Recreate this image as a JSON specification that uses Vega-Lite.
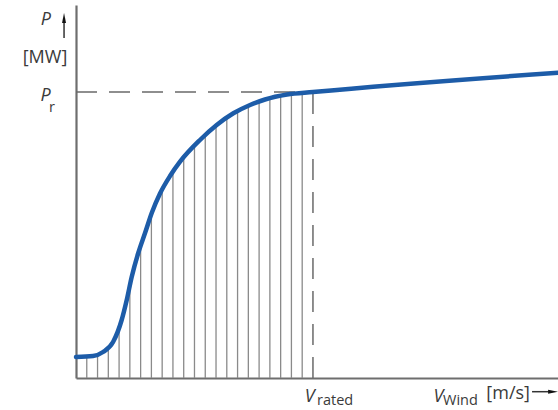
{
  "$schema": "https://vega.github.io/schema/vega-lite/v6.json",
  "width": 482,
  "height": 373,
  "autosize": {"type": "none"},
  "padding": {"left": 76, "top": 5, "right": 0, "bottom": 32},
  "background": "white",
  "config": {"view": {"stroke": null}},
  "datasets": {
    "curve": [
      {"v": 0, "p": 21}, {"v": 1.58, "p": 22}, {"v": 2.51, "p": 26}, {"v": 3.44, "p": 36},
      {"v": 4.24, "p": 58}, {"v": 4.71, "p": 78}, {"v": 5.17, "p": 101}, {"v": 5.78, "p": 125},
      {"v": 6.41, "p": 145}, {"v": 7.03, "p": 165}, {"v": 7.8, "p": 184.5}, {"v": 8.73, "p": 202},
      {"v": 9.66, "p": 216.3}, {"v": 11.51, "p": 238}, {"v": 13.06, "p": 253}, {"v": 14.61, "p": 264.7},
      {"v": 16.16, "p": 273}, {"v": 17.55, "p": 278.5}, {"v": 19.59, "p": 283.5}, {"v": 22, "p": 286},
      {"v": 44.75, "p": 305.3}
    ],
    "hatch": [
      {"v": 1, "b": 0, "p": 21.5}, {"v": 2, "b": 0, "p": 23.5}, {"v": 3, "b": 0, "p": 30}, {"v": 4, "b": 0, "p": 50},
      {"v": 5, "b": 0, "p": 93}, {"v": 6, "b": 0, "p": 132}, {"v": 7, "b": 0, "p": 164}, {"v": 8, "b": 0, "p": 188},
      {"v": 9, "b": 0, "p": 206}, {"v": 10, "b": 0, "p": 221}, {"v": 11, "b": 0, "p": 233}, {"v": 12, "b": 0, "p": 243},
      {"v": 13, "b": 0, "p": 252.5}, {"v": 14, "b": 0, "p": 260.5}, {"v": 15, "b": 0, "p": 267}, {"v": 16, "b": 0, "p": 272.3},
      {"v": 17, "b": 0, "p": 276.5}, {"v": 18, "b": 0, "p": 280}, {"v": 19, "b": 0, "p": 282.5}, {"v": 20, "b": 0, "p": 284.2},
      {"v": 21, "b": 0, "p": 285.2}
    ],
    "dash": [
      {"x1": 0, "x2": 22, "y1": 286, "y2": 286},
      {"x1": 22, "x2": 22, "y1": 0, "y2": 286}
    ],
    "arrowLines": [
      {"x1": -1.11, "x2": -1.11, "y1": 340, "y2": 358},
      {"x1": 42.34, "x2": 43.9, "y1": -13.7, "y2": -13.7}
    ],
    "headUp": [{"x": -1.11, "y": 360}],
    "headRight": [{"x": 44.3, "y": -13.7}],
    "italic": [
      {"x": -2.79, "y": 353, "t": "P"},
      {"x": -2.83, "y": 277, "t": "P"},
      {"x": 21.7, "y": -24, "t": "V"},
      {"x": 33.66, "y": -24, "t": "V"}
    ],
    "subs": [
      {"x": -2.5, "y": 266, "t": "r"},
      {"x": 22.38, "y": -27, "t": "rated"},
      {"x": 34.08, "y": -27, "t": "Wind"}
    ],
    "units": [
      {"x": -4.95, "y": 315, "t": "[MW]"},
      {"x": 38.1, "y": -21, "t": "[m/s]"}
    ]
  },
  "layer": [
    {
      "data": {"name": "hatch"},
      "mark": {"type": "rule", "color": "#8a8a8a", "strokeWidth": 1.3},
      "encoding": {
        "x": {"field": "v", "type": "quantitative", "scale": {"domain": [0, 44.75], "nice": false, "zero": false},
          "axis": {"labels": false, "ticks": false, "grid": false, "title": null, "domainColor": "#6e6e6e", "domainWidth": 2.2}},
        "y": {"field": "b", "type": "quantitative", "scale": {"domain": [0, 373], "nice": false, "zero": false},
          "axis": {"labels": false, "ticks": false, "grid": false, "title": null, "domainColor": "#6e6e6e", "domainWidth": 2.2}},
        "y2": {"field": "p"}
      }
    },
    {
      "data": {"name": "dash"},
      "mark": {"type": "rule", "color": "#6a6a6a", "strokeWidth": 1.5, "strokeDash": [21, 12]},
      "encoding": {
        "x": {"field": "x1", "type": "quantitative"},
        "x2": {"field": "x2"},
        "y": {"field": "y1", "type": "quantitative"},
        "y2": {"field": "y2"}
      }
    },
    {
      "data": {"name": "curve"},
      "mark": {"type": "line", "color": "#1d5ca8", "strokeWidth": 4.5, "interpolate": "monotone", "strokeCap": "round"},
      "encoding": {
        "x": {"field": "v", "type": "quantitative"},
        "y": {"field": "p", "type": "quantitative"}
      }
    },
    {
      "data": {"name": "arrowLines"},
      "mark": {"type": "rule", "color": "#333333", "strokeWidth": 1.5, "clip": false},
      "encoding": {
        "x": {"field": "x1", "type": "quantitative"},
        "x2": {"field": "x2"},
        "y": {"field": "y1", "type": "quantitative"},
        "y2": {"field": "y2"}
      }
    },
    {
      "data": {"name": "headUp"},
      "mark": {"type": "point", "filled": true, "color": "#111111", "opacity": 1, "size": 100, "clip": false, "shape": "M0,-1L0.4,1L-0.4,1Z"},
      "encoding": {
        "x": {"field": "x", "type": "quantitative"},
        "y": {"field": "y", "type": "quantitative"}
      }
    },
    {
      "data": {"name": "headRight"},
      "mark": {"type": "point", "filled": true, "color": "#111111", "opacity": 1, "size": 100, "clip": false, "shape": "M1,0L-1,0.4L-1,-0.4Z"},
      "encoding": {
        "x": {"field": "x", "type": "quantitative"},
        "y": {"field": "y", "type": "quantitative"}
      }
    },
    {
      "data": {"name": "italic"},
      "mark": {"type": "text", "font": "Open Sans", "fontStyle": "italic", "fontSize": 18, "color": "#3a3a3a", "baseline": "alphabetic", "align": "center", "clip": false},
      "encoding": {
        "x": {"field": "x", "type": "quantitative"},
        "y": {"field": "y", "type": "quantitative"},
        "text": {"field": "t"}
      }
    },
    {
      "data": {"name": "subs"},
      "mark": {"type": "text", "font": "Open Sans", "fontSize": 14.5, "color": "#3a3a3a", "baseline": "alphabetic", "align": "left", "clip": false},
      "encoding": {
        "x": {"field": "x", "type": "quantitative"},
        "y": {"field": "y", "type": "quantitative"},
        "text": {"field": "t"}
      }
    },
    {
      "data": {"name": "units"},
      "mark": {"type": "text", "font": "Open Sans", "fontSize": 18, "color": "#3a3a3a", "baseline": "alphabetic", "align": "left", "clip": false},
      "encoding": {
        "x": {"field": "x", "type": "quantitative"},
        "y": {"field": "y", "type": "quantitative"},
        "text": {"field": "t"}
      }
    }
  ]
}
